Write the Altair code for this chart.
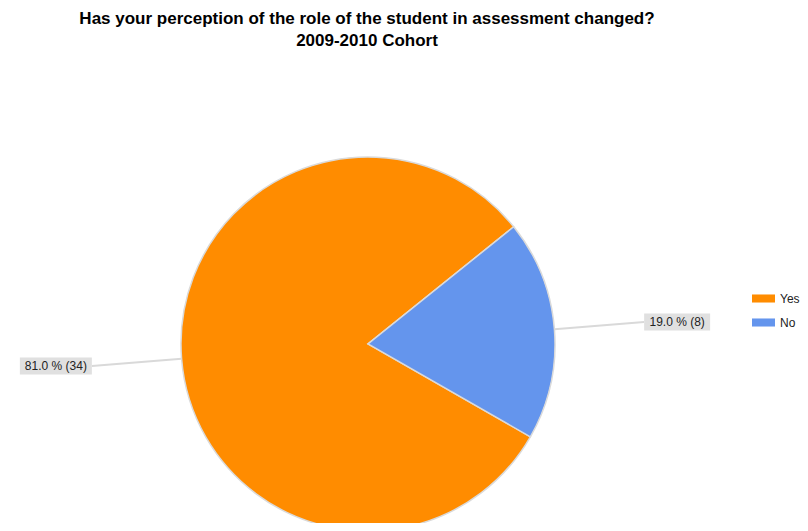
import math
import altair as alt
import pandas as pd

categories = ["Yes", "No"]
counts = [34, 8]
percents = [81.0, 19.0]
colors = ["#FF8C00", "#6495ED"]
title_lines = [
    "Has your perception of the role of the student in assessment changed?",
    "2009-2010 Cohort",
]

df = pd.DataFrame({
    "answer": categories,
    "count": counts,
    "pct": percents,
    "order": list(range(len(categories))),
})
df["label"] = [f"{p:.1f} % ({c})" for p, c in zip(percents, counts)]

START = 2.09          # start angle of first slice (radians, clockwise from 12 o'clock)
CX, CY, R = 360, 276, 187
R_END = 277

color_scale = alt.Scale(domain=categories, range=colors)

pie = alt.Chart(df).mark_arc(
    outerRadius=R, stroke="#dadada", strokeWidth=1.5
).encode(
    theta=alt.Theta("count:Q", stack=True,
                    scale=alt.Scale(range=[START, START + 2 * math.pi], nice=False, zero=True)),
    color=alt.Color("answer:N", scale=color_scale, sort=categories,
                    legend=alt.Legend(
                        title=None, orient="none", legendX=744, legendY=219,
                        symbolType="M-1,-0.35H1V0.35H-1Z", symbolSize=529,
                        symbolStrokeWidth=0, labelFont="Liberation Sans",
                        labelFontSize=12, labelColor="#222222", labelOffset=5,
                        rowPadding=6)),
    order=alt.Order("order:Q"),
    x=alt.value(CX), y=alt.value(CY),
)

base = alt.Chart(df).transform_joinaggregate(
    total="sum(count)"
).transform_stack(
    stack="count", groupby=[], as_=["c0", "c1"], sort=[alt.SortField("order")]
).transform_calculate(
    mid=f"{START} + 2*PI*((datum.c0+datum.c1)/2)/datum.total"
).transform_calculate(
    x1=f"{CX} + {R}*sin(datum.mid)",
    y1=f"{CY} - {R}*cos(datum.mid)",
    x2=f"{CX} + {R_END}*sin(datum.mid)",
    y2=f"{CY} - {R_END}*cos(datum.mid)",
    side="sin(datum.mid) >= 0 ? 1 : -1",
    w="6*length(datum.label) + 6",
).transform_calculate(
    bx2="datum.x2 + datum.side*datum.w",
    tx="datum.x2 + datum.side*datum.w/2",
    by1="datum.y2 - 8.5",
    by2="datum.y2 + 8.5",
)

leader = base.mark_rule(color="#d9d9d9", strokeWidth=2).encode(
    x=alt.X("x1:Q", scale=None), y=alt.Y("y1:Q", scale=None),
    x2="x2:Q", y2="y2:Q",
)

box = base.mark_rect(color="#e0e0e0").encode(
    x=alt.X("x2:Q", scale=None), x2="bx2:Q",
    y=alt.Y("by1:Q", scale=None), y2="by2:Q",
)

txt = base.mark_text(font="Liberation Sans", fontSize=12, color="#222222",
                     align="center", baseline="middle").encode(
    x=alt.X("tx:Q", scale=None), y=alt.Y("y2:Q", scale=None),
    text="label:N",
)

chart = alt.layer(pie, leader, box, txt).properties(
    width=792, height=455,
    autosize=alt.AutoSizeParams(type="none"),
    padding={"left": 0, "top": 60, "right": 0, "bottom": 0},
    title=alt.TitleParams(
        text=title_lines, fontSize=17, font="Liberation Sans", fontWeight="bold",
        anchor="middle", dx=-37, offset=18, lineHeight=22, color="#000000"),
).configure_view(stroke=None)

chart.save("out.html", embed_options={"renderer": "svg", "actions": False})
